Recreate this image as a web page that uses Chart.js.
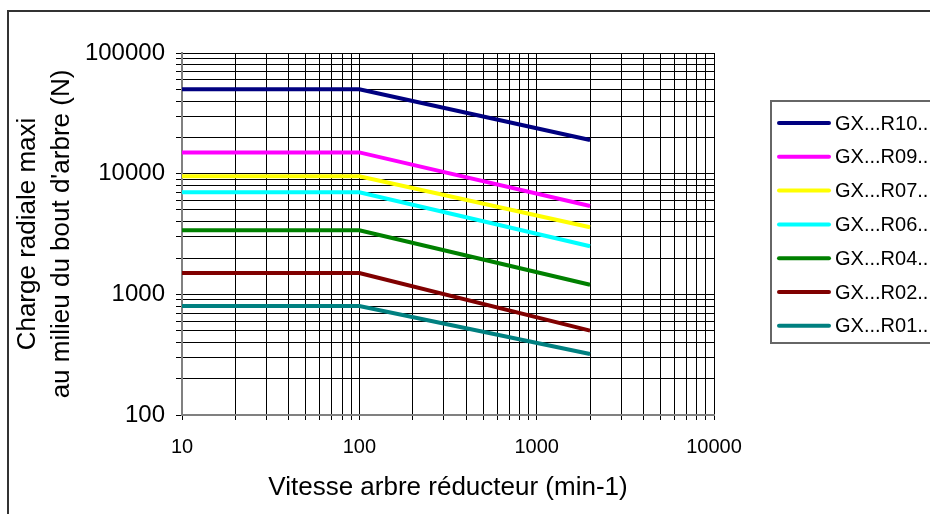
<!DOCTYPE html>
<html>
<head>
<meta charset="utf-8">
<script src="https://cdn.jsdelivr.net/npm/chart.js@4/dist/chart.umd.min.js"></script>
<style>
  html, body { margin: 0; padding: 0; background: #fff; }
  #wrap { position: relative; width: 930px; height: 514px; }
</style>
</head>
<body>
<div id="wrap"><canvas id="chart" width="930" height="514"></canvas></div>
<script>
// données
const vitesses = [10, 100, 2000];
const r10 = [50000, 50000, 19000];
const r09 = [15000, 15000, 5400];
const r07 = [9500, 9500, 3600];
const r06 = [7000, 7000, 2500];
const r04 = [3400, 3400, 1200];
const r02 = [1500, 1500, 500];
const r01 = [800, 800, 320];

const nomsSeries = ['GX...R10...', 'GX...R09...', 'GX...R07...', 'GX...R06...', 'GX...R04...', 'GX...R02...', 'GX...R01...'];
const couleurs = ['#000080', '#FF00FF', '#FFFF00', '#00FFFF', '#008000', '#800000', '#008080'];
const valeurs = [r10, r09, r07, r06, r04, r02, r01];

const xTicks = [10, 100, 1000, 10000];
const yTicks = [100, 1000, 10000, 100000];

const police = '"Liberation Sans", Arial, sans-serif';

function logTicks(min, max) {
    const out = [];
    for (let p = min; p < max; p *= 10) {
        for (let k = 1; k < 10; k++) out.push({ value: p * k, major: k === 1 });
    }
    out.push({ value: max, major: true });
    return out;
}

// cadre extérieur + fond
const cadre = {
    id: 'cadre',
    beforeDraw(chart) {
        const c = chart.ctx;
        c.save();
        c.fillStyle = '#fff';
        c.fillRect(0, 0, chart.width, chart.height);
        c.strokeStyle = '#333';
        c.lineWidth = 2;
        c.strokeRect(8, 11, chart.width + 20, chart.height + 20);
        c.restore();
    }
};

// légende dessinée à la main (boîte coupée à droite comme l'original)
const legende = {
    id: 'legende',
    afterDraw(chart) {
        const c = chart.ctx;
        const x0 = 771, y0 = 101, h = 242;
        c.save();
        c.fillStyle = '#fff';
        c.fillRect(x0, y0, 200, h);
        c.strokeStyle = '#666';
        c.lineWidth = 2;
        c.strokeRect(x0, y0, 200, h);
        c.font = '20px ' + police;
        c.textBaseline = 'middle';
        chart.data.datasets.forEach((ds, i) => {
            const y = y0 + 22 + i * 33.8;
            c.strokeStyle = ds.borderColor;
            c.lineWidth = 4;
            c.lineCap = 'round';
            c.beginPath();
            c.moveTo(779, y);
            c.lineTo(829, y);
            c.stroke();
            c.fillStyle = '#000';
            c.fillText(ds.label, 835, y + 1);
        });
        c.restore();
    }
};

const ctx = document.getElementById('chart').getContext('2d');
new Chart(ctx, {
    type: 'line',
    data: {
        datasets: valeurs.map((v, i) => ({
            label: nomsSeries[i],
            data: vitesses.map((x, j) => ({ x: x, y: v[j] })),
            borderColor: couleurs[i],
            backgroundColor: couleurs[i],
            borderWidth: 4,
            pointRadius: 0,
            fill: false,
            tension: 0
        }))
    },
    options: {
        responsive: false,
        animation: false,
        layout: { padding: { left: 0, right: 216, top: 53, bottom: 0 } },
        plugins: { legend: { display: false }, tooltip: { enabled: false } },
        scales: {
            x: {
                type: 'logarithmic',
                min: 10, max: 10000,
                afterBuildTicks: s => { s.ticks = logTicks(10, 10000); },
                afterFit: s => { s.height = 99; },
                ticks: {
                    autoSkip: false, maxRotation: 0, color: '#000', padding: 15,
                    font: { family: police, size: 20 },
                    callback: v => xTicks.includes(v) ? String(v) : ''
                },
                grid: { color: '#000', lineWidth: 1, tickLength: 5 },
                border: { color: '#808080', width: 2 },
                title: {
                    display: true, text: 'Vitesse arbre réducteur (min-1)', color: '#000',
                    font: { family: police, size: 26 },
                    padding: { top: 4, bottom: 11 }
                }
            },
            y: {
                type: 'logarithmic',
                min: 100, max: 100000,
                afterBuildTicks: s => { s.ticks = logTicks(100, 100000); },
                afterFit: s => { s.width = 182; },
                ticks: {
                    autoSkip: false, color: '#000', padding: 11,
                    font: { family: police, size: 24 },
                    callback: v => yTicks.includes(v) ? String(v) : ''
                },
                grid: { color: '#000', lineWidth: 1, tickLength: 6 },
                border: { color: '#808080', width: 2 },
                title: {
                    display: true,
                    text: ['Charge radiale maxi', "au milieu du bout d'arbre (N)"],
                    color: '#000',
                    font: { family: police, size: 26, lineHeight: 1.3 },
                    padding: { top: 11, bottom: 0 }
                }
            }
        }
    },
    plugins: [cadre, legende]
});
</script>
</body>
</html>
